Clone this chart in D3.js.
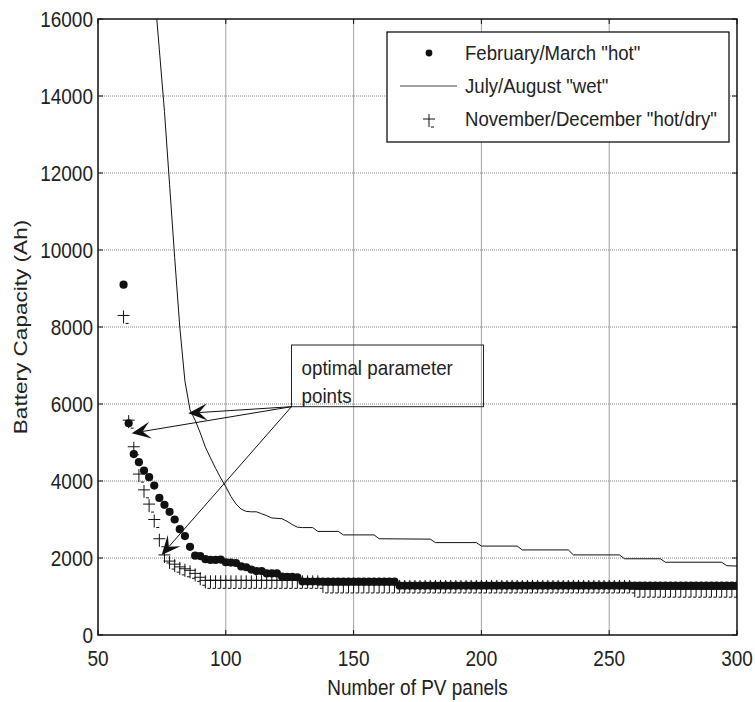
<!DOCTYPE html>
<html>
<head>
<meta charset="utf-8">
<script src="https://cdn.jsdelivr.net/npm/d3@7"></script>
<style>
  body { margin: 0; background: #fff; }
  text { font-family: "Liberation Sans", Arial, sans-serif; fill: #222; }
</style>
</head>
<body>
<div id="chart"></div>
<script>
// number of PV panels (x positions of the marker series)
const panels = [60,62,64,66,68,70,72,74,76,78,80,82,84,86,88,90,92,94,96,98,
  100,102,104,106,108,110,112,114,116,118,120,122,124,126,128,130,132,134,136,138,
  140,142,144,146,148,150,152,154,156,158,160,162,164,166,168,170,172,174,176,178,
  180,182,184,186,188,190,192,194,196,198,200,202,204,206,208,210,212,214,216,218,
  220,222,224,226,228,230,232,234,236,238,240,242,244,246,248,250,252,254,256,258,
  260,262,264,266,268,270,272,274,276,278,280,282,284,286,288,290,292,294,296,298,300];

// February/March "hot"
const hotAh = [9100,5500,4700,4490,4270,4100,3880,3560,3380,3200,3000,2750,2570,2290,2060,2050,1970,1950,1950,1960,
  1890,1880,1870,1780,1760,1700,1660,1660,1600,1600,1600,1520,1510,1510,1500,1390,1390,1390,1390,1390,
  1390,1390,1390,1390,1390,1390,1390,1390,1390,1390,1390,1390,1390,1390,1280,1280,1280,1280,1280,1280,
  1280,1280,1280,1280,1280,1280,1280,1280,1280,1280,1280,1280,1280,1280,1280,1280,1280,1280,1280,1280,
  1280,1280,1280,1280,1280,1280,1280,1280,1280,1280,1280,1280,1280,1280,1280,1280,1280,1280,1280,1280,
  1280,1280,1280,1280,1280,1280,1280,1280,1280,1280,1280,1280,1280,1280,1280,1280,1280,1280,1280,1280,1280];

// November/December "hot/dry"
const dryAh = [8300,5580,4890,4180,3770,3400,3000,2500,2080,1920,1840,1770,1720,1680,1600,1500,1420,1420,1420,1420,
  1420,1420,1420,1420,1420,1420,1420,1420,1420,1420,1420,1420,1420,1420,1420,1420,1420,1420,1420,1300,
  1300,1300,1300,1300,1300,1300,1300,1300,1300,1300,1300,1300,1300,1300,1300,1300,1300,1300,1300,1300,
  1300,1300,1300,1300,1300,1300,1300,1300,1300,1300,1300,1300,1300,1300,1300,1300,1300,1300,1300,1300,
  1300,1300,1300,1300,1300,1300,1300,1300,1300,1300,1300,1300,1300,1300,1300,1300,1300,1300,1300,1300,
  1190,1190,1190,1190,1190,1190,1190,1190,1190,1190,1190,1190,1190,1190,1190,1190,1190,1190,1190,1190,1190];

// July/August "wet" (line vertices)
const wetPanels = [72,74,76,78,80,82,84,86,88,90,92,94,96,98,100,102,104,106,108,110,112,114,116,118,120,122,124,126,128,
  130,134,136,144,146,158,160,180,182,198,200,214,216,234,236,254,256,270,272,294,296,300];
const wetAh = [16800,15200,13600,11700,9800,8000,6600,5850,5580,5250,4880,4600,4330,4080,3850,3600,3400,3270,3210,3200,3200,3150,3100,3040,3030,3020,2950,2870,2800,
  2790,2790,2690,2690,2600,2600,2500,2490,2400,2400,2310,2310,2210,2210,2080,2080,1980,1980,1890,1890,1800,1790];

const xTicks = [50, 100, 150, 200, 250, 300];
const yTicks = [0, 2000, 4000, 6000, 8000, 10000, 12000, 14000, 16000];
const legendLabels = ['February/March "hot"', 'July/August "wet"', 'November/December "hot/dry"'];

// annotation arrows: tips at data points, shared tail at the text box corner
const noteTips = [[85.3, 5760], [63.2, 5240], [74.9, 2080]];
const noteTail = [125.7, 5930];
const noteLines = ["optimal parameter", "points"];

const W = 755, H = 702;
const pLeft = 98, pRight = 737, pTop = 19, pBottom = 635;
const stretch = 1.12; // the source picture is a bit taller than wide

const svg = d3.select("#chart").append("svg")
  .attr("width", W)
  .attr("height", H);

const x = d3.scaleLinear().domain([50, 300]).range([pLeft, pRight]);
const y = d3.scaleLinear().domain([0, 16000]).range([pBottom, pTop]);

// horizontal text, slightly stretched vertically
function label(g, tx, ty, str, size, anchor) {
  return g.append("text")
    .attr("transform", `translate(${tx},${ty}) scale(1,${stretch})`)
    .attr("text-anchor", anchor || "start")
    .style("font-size", size + "px")
    .text(str);
}

svg.append("clipPath").attr("id", "plot-clip")
  .append("rect")
  .attr("x", pLeft).attr("y", pTop)
  .attr("width", pRight - pLeft).attr("height", pBottom - pTop);

// ===== GRID =====
svg.append("g")
  .selectAll("line")
  .data(xTicks.slice(1, -1))
  .enter().append("line")
  .attr("x1", d => x(d)).attr("x2", d => x(d))
  .attr("y1", pTop).attr("y2", pBottom)
  .attr("stroke", "#a0a0a0")
  .attr("stroke-width", 1);

svg.append("g")
  .selectAll("line")
  .data(yTicks.slice(1, -1))
  .enter().append("line")
  .attr("x1", pLeft).attr("x2", pRight)
  .attr("y1", d => y(d)).attr("y2", d => y(d))
  .attr("stroke", "#888")
  .attr("stroke-width", 1)
  .attr("stroke-dasharray", "1,1");

// ===== AXES (ticks inward, mirrored on top/right) =====
const tickLen = 5;
const axG = svg.append("g").attr("stroke", "#111").attr("stroke-width", 1);
xTicks.forEach(t => {
  axG.append("line").attr("x1", x(t)).attr("x2", x(t)).attr("y1", pBottom).attr("y2", pBottom - tickLen);
  axG.append("line").attr("x1", x(t)).attr("x2", x(t)).attr("y1", pTop).attr("y2", pTop + tickLen);
});
yTicks.forEach(t => {
  axG.append("line").attr("x1", pLeft).attr("x2", pLeft + tickLen).attr("y1", y(t)).attr("y2", y(t));
  axG.append("line").attr("x1", pRight).attr("x2", pRight - tickLen).attr("y1", y(t)).attr("y2", y(t));
});

const xLab = svg.append("g");
xTicks.forEach(t => label(xLab, x(t), pBottom + 31, t, 19, "middle"));

const yLab = svg.append("g");
yTicks.forEach(t => label(yLab, pLeft - 5, y(t) + 7.5, t, 19, "end"));

label(svg, (pLeft + pRight) / 2, 695, "Number of PV panels", 19, "middle");

svg.append("text")
  .attr("transform", `translate(27,${(pTop + pBottom) / 2}) rotate(-90) scale(1.22,1)`)
  .attr("text-anchor", "middle")
  .style("font-size", "18.5px")
  .text("Battery Capacity (Ah)");

// ===== SERIES =====
const plot = svg.append("g").attr("clip-path", "url(#plot-clip)");

const crossPath = "M-6,0H6M0,-5V8M2,8H5";

plot.append("path")
  .datum(wetPanels.map((p, i) => [p, wetAh[i]]))
  .attr("fill", "none")
  .attr("stroke", "#111")
  .attr("stroke-width", 1)
  .attr("d", d3.line().x(d => x(d[0])).y(d => y(d[1])));

plot.append("g")
  .selectAll("path")
  .data(panels.map((p, i) => [p, dryAh[i]]))
  .enter().append("path")
  .attr("transform", d => `translate(${x(d[0])},${y(d[1])})`)
  .attr("d", crossPath)
  .attr("fill", "none")
  .attr("stroke", "#111")
  .attr("stroke-width", 1);

plot.append("g")
  .selectAll("circle")
  .data(panels.map((p, i) => [p, hotAh[i]]))
  .enter().append("circle")
  .attr("cx", d => x(d[0]))
  .attr("cy", d => y(d[1]))
  .attr("r", 4.1)
  .attr("fill", "#111");

// axes box on top
svg.append("rect")
  .attr("x", pLeft).attr("y", pTop)
  .attr("width", pRight - pLeft).attr("height", pBottom - pTop)
  .attr("fill", "none")
  .attr("stroke", "#111")
  .attr("stroke-width", 1.5);

// ===== LEGEND =====
const legend = svg.append("g").attr("transform", "translate(387,32)");
legend.append("rect")
  .attr("width", 342).attr("height", 110)
  .attr("fill", "#fff")
  .attr("stroke", "#111")
  .attr("stroke-width", 1.3);

legend.append("circle").attr("cx", 42).attr("cy", 21).attr("r", 3.4).attr("fill", "#111");
legend.append("line")
  .attr("x1", 13).attr("x2", 70).attr("y1", 54).attr("y2", 54)
  .attr("stroke", "#444").attr("stroke-width", 1);
legend.append("path")
  .attr("transform", "translate(42,87)")
  .attr("d", crossPath)
  .attr("fill", "none").attr("stroke", "#111");

legendLabels.forEach((s, i) => label(legend, 78, 28 + i * 33, s, 18.6));

// ===== ANNOTATION =====
const note = svg.append("g");
note.append("rect")
  .attr("x", x(noteTail[0]))
  .attr("y", 345)
  .attr("width", 192)
  .attr("height", y(noteTail[1]) - 345)
  .attr("fill", "none")
  .attr("stroke", "#222")
  .attr("stroke-width", 1);

noteLines.forEach((s, i) => label(note, x(noteTail[0]) + 10, 375 + i * 27.5, s, 18.8));

const tx = x(noteTail[0]), ty = y(noteTail[1]);
noteTips.forEach(t => {
  const px = x(t[0]), py = y(t[1]);
  const ang = Math.atan2(ty - py, tx - px);
  const L = 19, Wd = 8.5;
  const ca = Math.cos(ang), sa = Math.sin(ang);
  const pt = (a, b) => [px + a * ca - b * sa, py + a * sa + b * ca];
  note.append("line")
    .attr("x1", tx).attr("y1", ty)
    .attr("x2", pt(11, 0)[0]).attr("y2", pt(11, 0)[1])
    .attr("stroke", "#111").attr("stroke-width", 1);
  note.append("path")
    .attr("d", "M" + [pt(0, 0), pt(L, Wd), pt(11, 0), pt(L, -Wd)].join("L") + "Z")
    .attr("fill", "#111");
});
</script>
</body>
</html>
